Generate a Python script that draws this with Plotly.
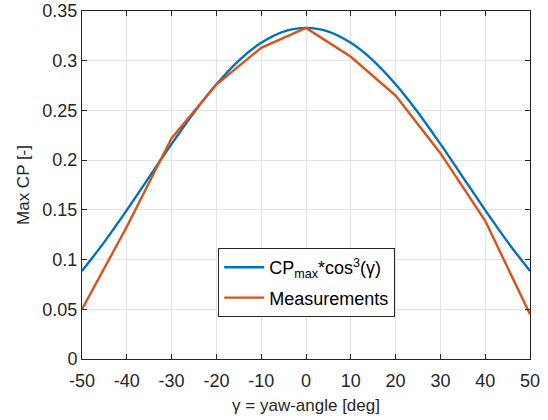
import plotly.graph_objects as go

# yaw angle grid and read-off values
gamma_model = [-50, -45, -40, -35, -30, -25, -20, -15, -10, -5, 0,
               5, 10, 15, 20, 25, 30, 35, 40, 45, 50]
cp_model = [0.0885, 0.1178, 0.1497, 0.1830, 0.2163, 0.2480, 0.2763, 0.3002, 0.3180,
            0.3293, 0.3330, 0.3293, 0.3180, 0.3002, 0.2763, 0.2480, 0.2163, 0.1830,
            0.1497, 0.1178, 0.0885]

gamma_meas = [-50, -40, -30, -20, -10, 0, 10, 20, 30, 40, 50]
cp_meas = [0.050, 0.133, 0.222, 0.276, 0.313, 0.333, 0.304, 0.265, 0.207, 0.139, 0.045]

x_ticks = [-50, -40, -30, -20, -10, 0, 10, 20, 30, 40, 50]
x_ticktext = ["-50", "-40", "-30", "-20", "-10", "0", "10", "20", "30", "40", "50"]
y_ticks = [0, 0.05, 0.1, 0.15, 0.2, 0.25, 0.3, 0.35]
y_ticktext = ["0", "0.05", "0.1", "0.15", "0.2", "0.25", "0.3", "0.35"]

BLUE = "#0072BD"
ORANGE = "#D95319"
AXIS = "#262626"
GRID = "#e3e3e3"
FONT = "Liberation Sans, Arial, sans-serif"

fig = go.Figure()
fig.add_trace(go.Scatter(
    x=gamma_model, y=cp_model,
    mode="lines", line=dict(color=BLUE, width=2.4, shape="spline"),
    name="CP<sub>max</sub>*cos<sup>3</sup>(γ)",
    legendgroup="a",
))
fig.add_trace(go.Scatter(
    x=gamma_meas, y=cp_meas,
    mode="lines", line=dict(color=ORANGE, width=2.4),
    name="Measurements",
    legendgroup="b",
))

axis_common = dict(
    showline=True, linecolor=AXIS, linewidth=1, mirror="ticks",
    ticks="inside", ticklen=5, tickcolor=AXIS,
    showgrid=True, gridcolor=GRID, gridwidth=1, zeroline=False,
    tickfont=dict(family=FONT, size=18, color=AXIS),
    automargin=False,
)

fig.update_layout(
    width=548, height=420,
    paper_bgcolor="white", plot_bgcolor="white",
    margin=dict(l=82, r=18, t=11, b=61),
    font=dict(family=FONT, color=AXIS, size=18),
    showlegend=True,
    legend=dict(
        x=0.304, y=0.319, xanchor="left", yanchor="top",
        bgcolor="white", bordercolor=AXIS, borderwidth=1,
        font=dict(family=FONT, size=18, color="#000000"),
        tracegroupgap=4, itemwidth=40,
    ),
    xaxis=dict(
        range=[-50, 50], tickvals=x_ticks, ticktext=x_ticktext,
        ticklabelstandoff=5,
        title=dict(text="γ = yaw-angle [deg]", standoff=9,
                   font=dict(family=FONT, size=17, color=AXIS)),
        **axis_common,
    ),
    yaxis=dict(
        range=[0, 0.35], tickvals=y_ticks, ticktext=y_ticktext,
        title=dict(text="Max CP [-]", standoff=8,
                   font=dict(family=FONT, size=17, color=AXIS)),
        **axis_common,
    ),
)

# drop the default 8px page margin so the figure sits at the window corner
fig.write_html("out.html", config={"displayModeBar": False},
               post_script="document.body.style.margin='0';")
